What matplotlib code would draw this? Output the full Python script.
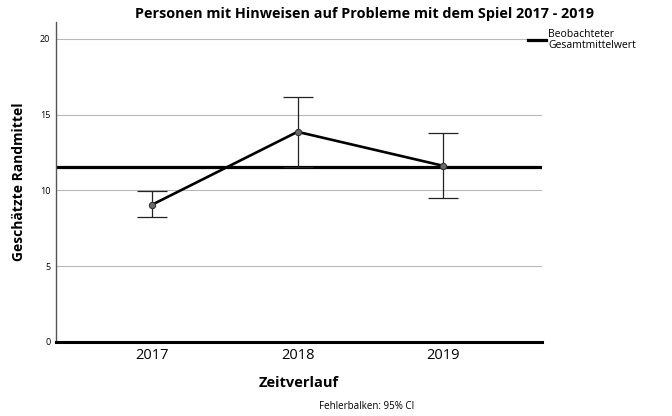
import matplotlib.pyplot as plt

plt.rcParams['font.family'] = ['Open Sans', 'DejaVu Sans']

years = ['2017', '2018', '2019']
means = [9.05, 13.86, 11.62]
ci_low = [8.25, 11.55, 9.5]
ci_high = [9.93, 16.17, 13.8]
grand_mean = 11.55
y_ticks = [0, 5, 10, 15, 20]

fig = plt.figure(figsize=(6.72, 4.16), dpi=100)
ax = fig.add_axes([0.0833, 0.178, 0.7232, 0.769])

x = list(range(len(years)))
err = [[m - lo for m, lo in zip(means, ci_low)],
       [hi - m for m, hi in zip(means, ci_high)]]

for yv in y_ticks[1:]:
    ax.axhline(yv, color='#b8b8b8', lw=0.8, zorder=0)

ax.axhline(grand_mean, color='black', lw=2.3, zorder=2)
ax.errorbar(x, means, yerr=err, fmt='none', ecolor='#222222', elinewidth=0.9,
            capsize=11, capthick=0.9, zorder=3)
ax.plot(x, means, color='black', lw=1.9, zorder=4)
ax.plot(x, means, 'o', ms=4.5, mfc='#6a6a6a', mec='#333333', mew=0.8, zorder=5)

ax.set_xlim(-0.66, 2.68)
ax.set_ylim(0, 21.1)
ax.set_xticks(x)
ax.set_xticklabels(years, fontsize=10.5, fontweight='medium')
ax.set_yticks(y_ticks)
ax.set_yticklabels([str(v) for v in y_ticks], fontsize=6.5)
ax.tick_params(length=0, pad=4)
ax.tick_params(axis='x', pad=4)

for s in ['top', 'right']:
    ax.spines[s].set_visible(False)
ax.spines['left'].set_color('#555555')
ax.spines['left'].set_linewidth(1.0)
ax.spines['bottom'].set_color('black')
ax.spines['bottom'].set_linewidth(2.2)

ax.set_xlabel('Zeitverlauf', fontsize=10.5, fontweight='bold', labelpad=10)
ax.set_ylabel('Geschätzte Randmittel', fontsize=10, fontweight='bold', labelpad=10)

fig.text(0.542, 0.966, 'Personen mit Hinweisen auf Probleme mit dem Spiel 2017 - 2019',
         ha='center', va='center', fontsize=10.4, fontweight='bold')
fig.text(0.545, 0.024, 'Fehlerbalken: 95% CI', ha='center', va='center', fontsize=7)

# legend for the grand mean line
fig.lines.append(plt.Line2D([0.785, 0.812], [0.904, 0.904], color='black', lw=2.3,
                            transform=fig.transFigure))
fig.text(0.816, 0.904, 'Beobachteter\nGesamtmittelwert', ha='left', va='center',
         fontsize=7.5, linespacing=0.95)

fig.savefig('out.png', dpi=100)
plt.close()
